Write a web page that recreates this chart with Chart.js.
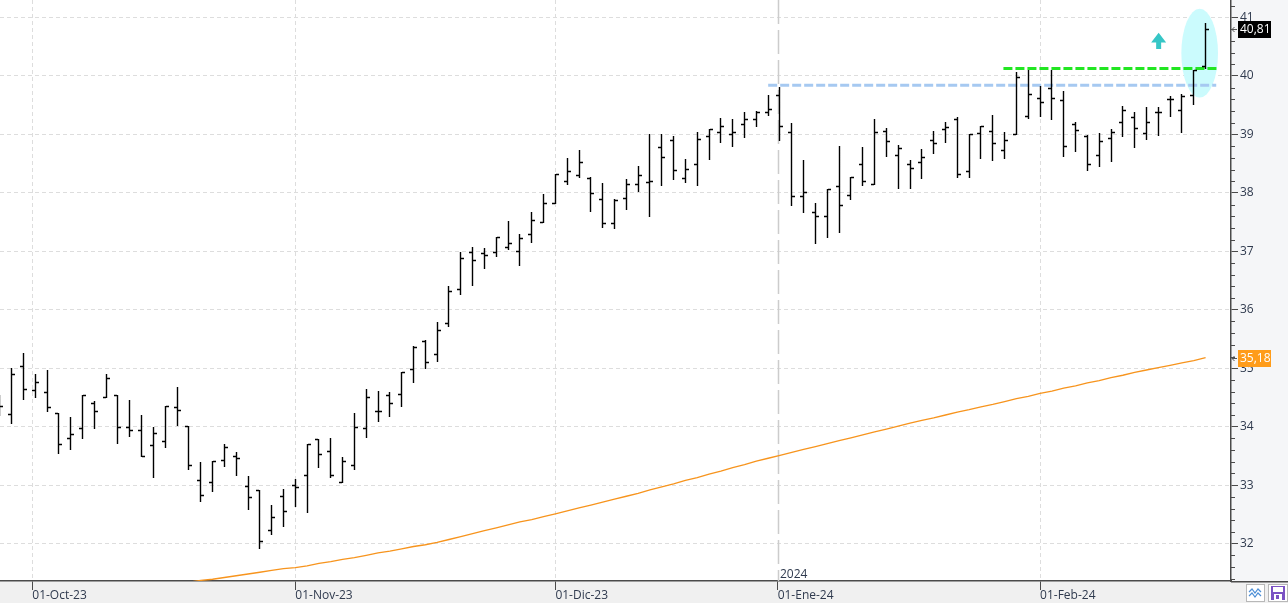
<!DOCTYPE html>
<html>
<head>
<meta charset="utf-8">
<title>Cotización diaria</title>
<script src="https://cdn.jsdelivr.net/npm/chart.js@4.4.1/dist/chart.umd.min.js"></script>
<style>
    html, body { margin: 0; padding: 0; background: #f0f0f0; }
    #wrap { width: 1288px; height: 603px; }
    canvas { display: block; }
</style>
</head>
<body>
<div id="wrap"><canvas id="priceChart" width="1288" height="603"></canvas></div>
<script>
"use strict";

// Daily bars (27-Sep-23 .. 21-Feb-24)
const opens = [
    34.45, 34.21, 35.04, 34.62, 34.60, 34.24, 33.80, 33.97, 34.40, 34.50,
    34.55, 33.99, 33.95, 33.68, 33.75, 34.33, 34.02, 33.08, 33.05, 33.43,
    33.49, 32.98, 32.91, 32.23, 32.82, 33.00, 33.17, 33.79, 33.58, 33.06,
    33.35, 33.97, 34.26, 34.55, 34.56, 34.98, 35.47, 35.24, 35.78, 36.35,
    36.99, 36.98, 36.99, 37.08, 37.00, 37.29, 37.51, 37.82, 38.21, 38.31,
    38.25, 37.89, 37.49, 37.91, 38.16, 38.18, 38.79, 38.90, 38.26, 38.50,
    38.98, 39.05, 39.01, 39.17, 39.26, 39.38, 39.67, 39.04, 37.94, 37.68,
    37.61, 38.11, 37.97, 38.50, 38.16, 39.06, 38.64, 38.50, 38.52, 38.90,
    39.09, 39.26, 38.37, 39.03, 39.06, 38.74, 39.00, 39.32, 39.62, 39.80,
    39.59, 39.17, 38.97, 38.64, 38.94, 39.21, 39.29, 39.03, 39.39, 39.60,
    39.42, 39.68, 40.17
];
const highs = [
    34.55, 35.00, 35.26, 34.90, 34.97, 34.24, 34.16, 34.55, 34.44, 34.91,
    34.55, 34.45, 34.20, 33.99, 34.35, 34.68, 34.02, 33.39, 33.41, 33.71,
    33.57, 33.15, 32.92, 32.66, 32.93, 33.10, 33.70, 33.79, 33.80, 33.48,
    34.23, 34.64, 34.61, 34.60, 34.93, 35.38, 35.49, 35.79, 36.41, 36.99,
    37.07, 37.06, 37.25, 37.52, 37.29, 37.68, 37.98, 38.32, 38.59, 38.73,
    38.28, 38.17, 37.90, 38.24, 38.46, 39.01, 39.01, 38.97, 38.58, 39.04,
    39.09, 39.28, 39.26, 39.38, 39.40, 39.67, 39.81, 39.19, 38.56, 37.82,
    38.06, 38.80, 38.27, 38.78, 39.26, 39.11, 38.82, 38.56, 38.75, 39.06,
    39.21, 39.30, 39.00, 39.15, 39.33, 39.04, 40.07, 40.11, 39.83, 40.11,
    39.74, 39.21, 38.99, 39.02, 39.10, 39.48, 39.38, 39.47, 39.47, 39.66,
    39.70, 40.10, 40.90
];
const lows = [
    34.20, 34.07, 34.48, 34.51, 34.27, 33.55, 33.61, 33.81, 33.98, 34.50,
    33.72, 33.84, 33.49, 33.14, 33.66, 34.03, 33.28, 32.73, 32.90, 33.33,
    33.18, 32.60, 31.93, 32.17, 32.30, 32.65, 32.54, 33.31, 33.14, 33.06,
    33.28, 33.83, 34.10, 34.19, 34.36, 34.76, 35.01, 35.13, 35.73, 36.27,
    36.42, 36.72, 36.92, 37.04, 36.77, 37.16, 37.50, 37.82, 38.15, 38.28,
    37.69, 37.42, 37.40, 37.73, 38.04, 37.61, 38.14, 38.24, 38.19, 38.14,
    38.58, 38.87, 38.81, 38.96, 39.14, 39.34, 38.91, 37.80, 37.68, 37.14,
    37.25, 37.33, 37.90, 38.14, 38.16, 38.63, 38.09, 38.09, 38.26, 38.69,
    38.87, 38.28, 38.28, 38.60, 38.57, 38.60, 39.00, 39.28, 39.32, 39.27,
    38.63, 38.72, 38.40, 38.46, 38.55, 38.98, 38.79, 38.93, 38.99, 39.32,
    39.05, 39.52, 40.14
];
const closes = [
    34.36, 34.91, 34.64, 34.77, 34.33, 33.71, 33.87, 34.55, 34.26, 34.84,
    33.99, 33.94, 33.50, 33.90, 34.35, 34.28, 33.34, 32.83, 33.41, 33.66,
    33.47, 32.79, 32.05, 32.46, 32.55, 32.96, 33.70, 33.53, 33.18, 33.41,
    34.00, 34.50, 34.27, 34.40, 34.93, 35.36, 35.10, 35.66, 36.33, 36.88,
    36.86, 36.93, 37.25, 37.14, 37.22, 37.53, 37.82, 38.32, 38.37, 38.52,
    37.99, 37.49, 37.88, 38.16, 38.30, 38.21, 38.61, 38.40, 38.41, 38.93,
    39.09, 39.15, 39.05, 39.26, 39.38, 39.43, 39.15, 37.94, 38.01, 37.61,
    38.06, 37.80, 38.27, 38.20, 39.04, 38.89, 38.76, 38.42, 38.62, 38.86,
    39.12, 38.33, 39.00, 39.14, 38.86, 38.91, 39.99, 39.70, 39.55, 39.63,
    38.81, 39.07, 38.50, 38.88, 39.05, 39.41, 39.11, 39.21, 39.39, 39.60,
    39.66, 40.10, 40.81
];

// Orange moving average, null while it is below the visible range
const movingAvg = [
    null, null, null, null, null, null, null, null, null, null,
    null, null, null, null, null, null, 31.34, 31.37, 31.39, 31.42,
    31.45, 31.48, 31.51, 31.54, 31.57, 31.59, 31.62, 31.66, 31.69, 31.73,
    31.76, 31.80, 31.84, 31.87, 31.91, 31.95, 31.98, 32.02, 32.07, 32.12,
    32.17, 32.22, 32.27, 32.32, 32.37, 32.41, 32.46, 32.51, 32.56, 32.61,
    32.66, 32.71, 32.76, 32.81, 32.86, 32.92, 32.97, 33.02, 33.08, 33.13,
    33.19, 33.24, 33.30, 33.35, 33.41, 33.46, 33.51, 33.56, 33.61, 33.66,
    33.71, 33.76, 33.81, 33.86, 33.91, 33.96, 34.01, 34.06, 34.11, 34.15,
    34.20, 34.25, 34.29, 34.34, 34.38, 34.43, 34.48, 34.52, 34.57, 34.61,
    34.66, 34.70, 34.75, 34.79, 34.84, 34.88, 34.93, 34.97, 35.01, 35.05,
    35.09, 35.13, 35.18
];

// Axis ticks
const monthTickPos = [2.75, 25, 47, 65.8, 88];
const monthLabels = ['01-Oct-23', '01-Nov-23', '01-Dic-23', '01-Ene-24', '01-Feb-24'];
const yearBreakPos = 65.8;
const yearLabel = '2024';
const priceTicks = [32, 33, 34, 35, 36, 37, 38, 39, 40, 41];

// Drawn levels: [from bar, to bar, price]
const blueLevel = [65.0, 102.9, 39.84];
const greenLevel = [84.9, 103.0, 40.13];

// Breakout marks (bar index / price units)
const highlightEllipse = { x: 101.5, y: 40.39, rx: 1.55, ry: 0.76 };
const breakoutArrow = { x: 98.03, tip: 40.74, base: 40.46 };

const xMin = 0.02, xMax = 104.15;
const yMin = 31.36, yMax = 41.30;

const FONT = "'Open Sans', 'Noto Sans', sans-serif";
const AXIS_COLOR = '#4a4a4a';
const TEXT_COLOR = '#2f3a4e';
const GRID_COLOR = '#dddddd';

const fmt = v => v.toFixed(2).replace('.', ',');

// Paint the panels behind the chart
const panelBackground = {
    id: 'panelBackground',
    beforeDraw(chart) {
        const { ctx, chartArea: a, width, height } = chart;
        ctx.save();
        ctx.fillStyle = '#f0f0f0';
        ctx.fillRect(0, 0, width, height);
        ctx.fillStyle = '#f5f6f8';
        ctx.fillRect(a.right, 0, width - a.right, a.bottom);
        ctx.fillStyle = '#ffffff';
        ctx.fillRect(a.left, a.top, a.width, a.height);
        ctx.restore();
    }
};

// Year separator, highlight ellipse and arrow (under the bars)
const marks = {
    id: 'marks',
    beforeDatasetsDraw(chart) {
        const { ctx, chartArea: a, scales: { x, y } } = chart;
        ctx.save();
        ctx.beginPath();
        ctx.rect(a.left, a.top, a.width, a.height);
        ctx.clip();

        const yx = Math.round(x.getPixelForValue(yearBreakPos)) + 0.5;
        ctx.strokeStyle = '#cccccc';
        ctx.lineWidth = 1.5;
        ctx.setLineDash([24, 6]);
        ctx.beginPath();
        ctx.moveTo(yx, a.top);
        ctx.lineTo(yx, a.bottom);
        ctx.stroke();
        ctx.setLineDash([]);

        ctx.fillStyle = TEXT_COLOR;
        ctx.font = '12px ' + FONT;
        ctx.textAlign = 'left';
        ctx.textBaseline = 'alphabetic';
        ctx.fillText(yearLabel, yx + 1.5, a.bottom - 3);

        const e = highlightEllipse;
        const cx = x.getPixelForValue(e.x), cy = y.getPixelForValue(e.y);
        const rx = Math.abs(x.getPixelForValue(e.x + e.rx) - cx);
        const ry = Math.abs(y.getPixelForValue(e.y + e.ry) - cy);
        ctx.fillStyle = '#cbfbfd';
        ctx.beginPath();
        ctx.ellipse(cx, cy, rx, ry, 0, 0, Math.PI * 2);
        ctx.fill();

        const ax = x.getPixelForValue(breakoutArrow.x);
        const at = y.getPixelForValue(breakoutArrow.tip);
        const ab = y.getPixelForValue(breakoutArrow.base);
        const hh = (ab - at) * 0.6;
        ctx.fillStyle = '#36c6c6';
        ctx.beginPath();
        ctx.moveTo(ax, at);
        ctx.lineTo(ax + 7.5, at + hh);
        ctx.lineTo(ax + 2.5, at + hh);
        ctx.lineTo(ax + 2.5, ab);
        ctx.lineTo(ax - 2.5, ab);
        ctx.lineTo(ax - 2.5, at + hh);
        ctx.lineTo(ax - 7.5, at + hh);
        ctx.closePath();
        ctx.fill();
        ctx.restore();
    }
};

// OHLC bars: vertical high-low, open tick left, close tick right
const ohlcBars = {
    id: 'ohlcBars',
    afterDatasetsDraw(chart) {
        const { ctx, chartArea: a, scales: { x, y } } = chart;
        ctx.save();
        ctx.beginPath();
        ctx.rect(a.left, a.top, a.width, a.height);
        ctx.clip();
        ctx.strokeStyle = '#000000';
        ctx.lineWidth = 1.4;
        ctx.beginPath();
        for (let i = 0; i < closes.length; i++) {
            const n = Math.floor(x.getPixelForValue(i));
            const yh = Math.round(y.getPixelForValue(highs[i]));
            const yl = Math.round(y.getPixelForValue(lows[i]));
            const yo = Math.round(y.getPixelForValue(opens[i])) + 0.5;
            const yc = Math.round(y.getPixelForValue(closes[i])) + 0.5;
            ctx.moveTo(n + 0.5, yh);
            ctx.lineTo(n + 0.5, yl + 1);
            ctx.moveTo(n - 3, yo);
            ctx.lineTo(n, yo);
            ctx.moveTo(n + 1, yc);
            ctx.lineTo(n + 4, yc);
        }
        ctx.stroke();
        ctx.restore();
    }
};

// Minor price ticks, value tags and the little corner buttons
const axisExtras = {
    id: 'axisExtras',
    afterDraw(chart) {
        const { ctx, chartArea: a, width, scales: { y } } = chart;
        ctx.save();

        // x axis line runs under the price panel too
        ctx.strokeStyle = AXIS_COLOR;
        ctx.lineWidth = 1.5;
        ctx.beginPath();
        ctx.moveTo(a.right, a.bottom + 0.75);
        ctx.lineTo(width, a.bottom + 0.75);
        ctx.stroke();

        ctx.lineWidth = 1;
        ctx.beginPath();
        for (let k = priceTicks[0] - 1; k <= priceTicks[priceTicks.length - 1]; k++) {
            for (let j = 1; j < 5; j++) {
                const v = k + j * 0.2;
                if (v < yMin || v > yMax) continue;
                const py = Math.round(y.getPixelForValue(v)) + 0.5;
                ctx.moveTo(a.right, py);
                ctx.lineTo(a.right + 4, py);
            }
        }
        ctx.stroke();

        const tag = (value, bg) => {
            const py = Math.round(y.getPixelForValue(value));
            ctx.fillStyle = bg;
            ctx.fillRect(a.right + 7, py - 8, 33, 17);
            ctx.fillStyle = '#ffffff';
            ctx.font = '12px ' + FONT;
            ctx.textAlign = 'left';
            ctx.textBaseline = 'middle';
            ctx.fillText(fmt(value), a.right + 9, py + 1);
            ctx.strokeStyle = '#555555';
            ctx.lineWidth = 1;
            ctx.beginPath();
            ctx.moveTo(a.right + 1, py + 0.5);
            ctx.lineTo(a.right + 6, py + 0.5);
            ctx.moveTo(a.right + 3.5, py - 2);
            ctx.lineTo(a.right + 1, py + 0.5);
            ctx.lineTo(a.right + 3.5, py + 3);
            ctx.stroke();
        };
        tag(closes[closes.length - 1], '#000000');
        tag(movingAvg[movingAvg.length - 1], '#ff9c1a');

        // corner buttons
        ctx.fillStyle = '#ffffff';
        ctx.strokeStyle = '#b8b8b8';
        ctx.fillRect(1246, 584, 18, 17);
        ctx.strokeRect(1246.5, 584.5, 18, 17);
        ctx.fillRect(1268, 584, 19, 17);
        ctx.strokeRect(1268.5, 584.5, 19, 17);
        ctx.strokeStyle = '#4d8fd6';
        ctx.lineWidth = 1.2;
        ctx.beginPath();
        ctx.moveTo(1249, 592); ctx.lineTo(1252, 589); ctx.lineTo(1255, 593); ctx.lineTo(1258, 589); ctx.lineTo(1261, 592);
        ctx.moveTo(1249, 596); ctx.lineTo(1252, 593); ctx.lineTo(1255, 597); ctx.lineTo(1258, 593); ctx.lineTo(1261, 596);
        ctx.stroke();
        ctx.fillStyle = '#7b52c4';
        ctx.fillRect(1271, 586, 14, 14);
        ctx.fillStyle = '#ffffff';
        ctx.fillRect(1273, 587, 10, 5);
        ctx.fillRect(1274, 594, 8, 6);
        ctx.fillStyle = '#7b52c4';
        ctx.fillRect(1276, 595, 3, 4);
        ctx.restore();
    }
};

const maPoints = movingAvg
    .map((v, i) => ({ x: i, y: v }))
    .filter(p => p.y !== null);

const priceCanvas = document.getElementById('priceChart').getContext('2d');
const chart = new Chart(priceCanvas, {
    type: 'line',
    data: {
        datasets: [{
            label: 'Media',
            data: maPoints,
            borderColor: '#f7941d',
            borderWidth: 1.3,
            pointRadius: 0,
            tension: 0
        }, {
            label: 'Resistencia',
            data: [{ x: blueLevel[0], y: blueLevel[2] }, { x: blueLevel[1], y: blueLevel[2] }],
            borderColor: '#a6c9f1',
            borderWidth: 3,
            borderDash: [9, 3],
            pointRadius: 0
        }, {
            label: 'Máximo',
            data: [{ x: greenLevel[0], y: greenLevel[2] }, { x: greenLevel[1], y: greenLevel[2] }],
            borderColor: '#22e622',
            borderWidth: 3,
            borderDash: [9, 3],
            pointRadius: 0
        }]
    },
    options: {
        responsive: false,
        animation: false,
        layout: { padding: 0 },
        plugins: {
            legend: { display: false },
            tooltip: { enabled: false }
        },
        scales: {
            x: {
                type: 'linear',
                min: xMin,
                max: xMax,
                afterBuildTicks: s => { s.ticks = monthTickPos.map(v => ({ value: v })); },
                afterFit: s => { s.height = 22; s.paddingLeft = 0; s.paddingRight = 0; },
                ticks: {
                    autoSkip: false,
                    maxRotation: 0,
                    align: 'start',
                    padding: -2,
                    color: TEXT_COLOR,
                    font: { family: FONT, size: 12 },
                    callback: (v, i) => monthLabels[i]
                },
                grid: {
                    color: c => (c.tick && c.tick.value === yearBreakPos) ? 'rgba(0,0,0,0)' : GRID_COLOR,
                    lineWidth: 1,
                    tickLength: 9,
                    tickColor: AXIS_COLOR,
                    tickWidth: 1
                },
                border: { display: true, color: AXIS_COLOR, width: 1.5, dash: [4, 3] }
            },
            y: {
                position: 'right',
                min: yMin,
                max: yMax,
                afterBuildTicks: s => { s.ticks = priceTicks.map(v => ({ value: v })); },
                afterFit: s => { s.width = 57; s.paddingTop = 0; s.paddingBottom = 0; },
                ticks: {
                    autoSkip: false,
                    padding: 2,
                    color: TEXT_COLOR,
                    font: { family: FONT, size: 12 },
                    callback: v => String(v)
                },
                grid: {
                    color: GRID_COLOR,
                    lineWidth: 1,
                    tickLength: 7,
                    tickColor: AXIS_COLOR,
                    tickWidth: 1
                },
                border: { display: true, color: AXIS_COLOR, width: 1.5, dash: [4, 3] }
            }
        }
    },
    plugins: [panelBackground, marks, ohlcBars, axisExtras]
});
</script>
</body>
</html>
